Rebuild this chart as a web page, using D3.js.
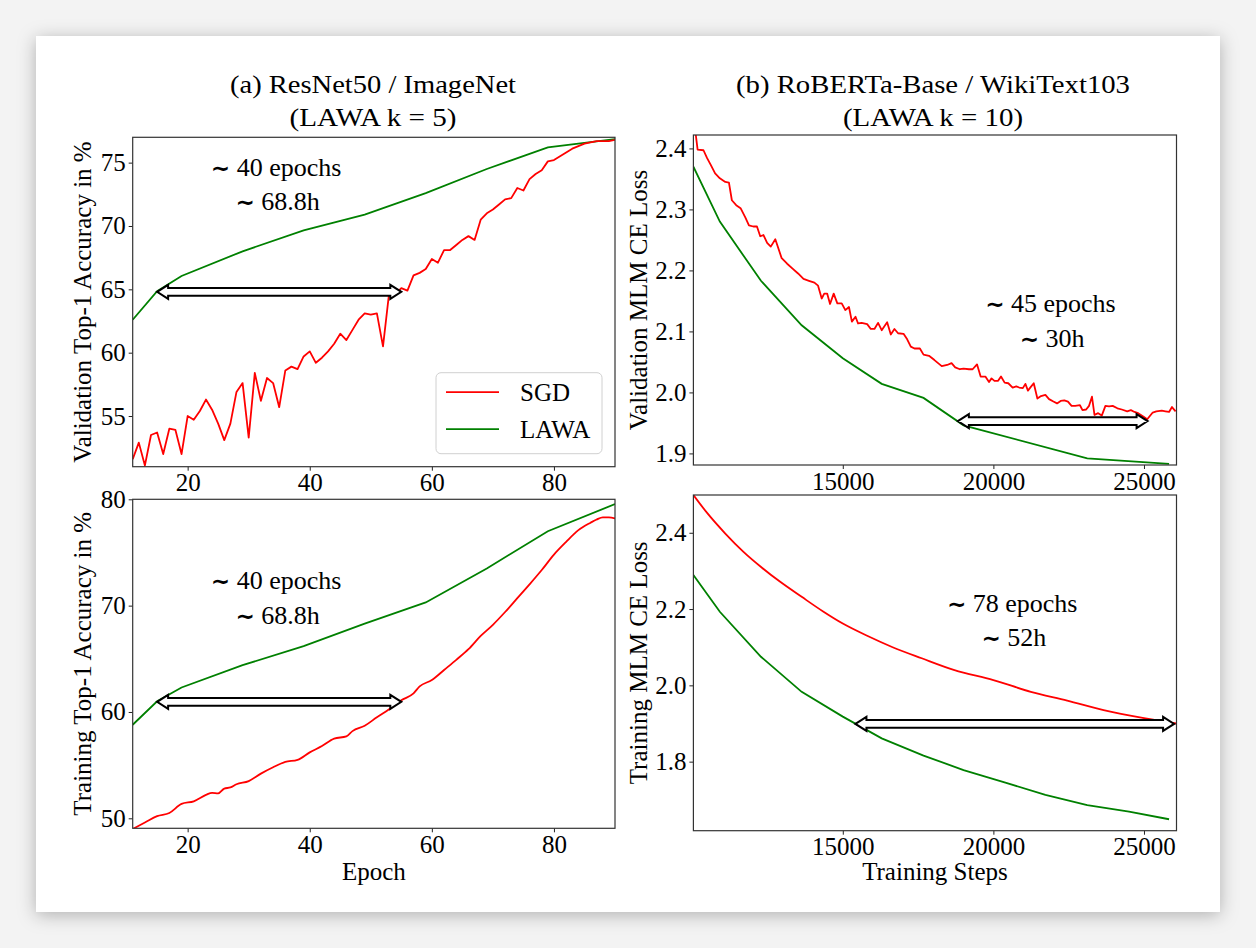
<!DOCTYPE html>
<html>
<head>
<meta charset="utf-8">
<script src="https://cdn.jsdelivr.net/npm/d3@7/dist/d3.min.js"></script>
<style>
  body { margin: 0; background: #f3f3f3; }
  svg text { font-family: "Liberation Serif", "Times New Roman", "DejaVu Serif", serif; fill: #000; }
</style>
</head>
<body>
<svg id="fig" width="1256" height="948"></svg>
<script>
// ---------- data ----------
// (a) ResNet50 / ImageNet, validation accuracy
const valEpochs = d3.range(11, 91);
const valSgd = [51.6, 52.9, 51.1, 53.5, 53.7, 52.0, 54.0, 53.9, 52.0, 55.0,
  54.7, 55.4, 56.3, 55.5, 54.4, 53.1, 54.4, 56.9, 57.6, 53.3,
  58.4, 56.2, 58.0, 57.6, 55.7, 58.6, 58.9, 58.7, 59.7, 60.1,
  59.2, 59.6, 60.1, 60.7, 61.5, 61.0, 61.8, 62.6, 63.1, 63.0,
  63.1, 60.5, 64.7, 64.6, 65.1, 64.9, 66.1, 66.3, 66.6, 67.4,
  67.1, 68.1, 68.1, 68.5, 68.9, 69.2, 68.9, 70.5, 71.0, 71.3,
  71.7, 72.1, 72.2, 73.0, 72.8, 73.7, 74.1, 74.4, 75.1, 75.2,
  75.5, 75.8, 76.1, 76.3, 76.5, 76.6, 76.7, 76.7, 76.7, 76.8];
const lawaEpochs = [11, 15, 19, 29, 39, 49, 59, 69, 79, 90];
const valLawa = [62.6, 64.85, 66.05, 68.0, 69.65, 70.9, 72.6, 74.5, 76.2, 76.85];

// (a) training accuracy
const trainSgdEpochs = [11, 13, 15, 17, 19, 21, 23, 24, 25, 26, 27, 28, 30, 32, 34, 36, 38, 40, 42, 44,
  46, 47, 49, 51, 53, 55, 57, 58, 60, 62, 64, 66, 68, 70, 72, 74, 76, 78, 80, 82, 84, 86, 87, 88, 89, 90];
const trainSgd = [49.0, 49.6, 50.2, 50.5, 51.35, 51.6, 52.2, 52.4, 52.35, 52.8, 52.9, 53.2, 53.5, 54.2, 54.8, 55.3, 55.5, 56.2, 56.8, 57.5,
  57.7, 58.2, 58.7, 59.5, 60.25, 61.1, 61.75, 62.4, 63.0, 63.95, 64.9, 65.9, 67.15, 68.2, 69.4, 70.7, 72.0, 73.35, 74.8, 76.0, 77.1, 77.8, 78.1, 78.3, 78.3, 78.2];
const trainLawa = [58.8, 61.0, 62.3, 64.4, 66.2, 68.3, 70.3, 73.5, 77.0, 79.55];

// (b) RoBERTa-Base / WikiText103, validation loss
const valSgdSteps = [10040, 10100, 10180, 10375, 10495, 10616, 10761, 10918, 11099, 11220, 11317, 11461, 11606, 11763, 11884, 12029, 12150,
  12259, 12367, 12488, 12609, 12760, 12971, 13152, 13333, 13515, 13696, 13877, 14058, 14179, 14300, 14384, 14481, 14577, 14698,
  14819, 14964, 15085, 15205, 15302, 15423, 15507, 15628, 15809, 15930, 16051, 16171, 16292, 16473, 16594, 16715, 16836, 17017,
  17138, 17258, 17379, 17560, 17681, 17862, 18043, 18285, 18466, 18611, 18732, 18889, 19010, 19191, 19311, 19456, 19577, 19734,
  19855, 19939, 20036, 20157, 20253, 20374, 20495, 20640, 20761, 20857, 20978, 21063, 21147, 21244, 21340, 21461, 21582, 21727,
  21848, 21993, 22113, 22234, 22355, 22476, 22596, 22717, 22874, 22959, 23080, 23176, 23273, 23357, 23478, 23599, 23720, 23840,
  23961, 24118, 24263, 24444, 24565, 24686, 24807, 24988, 25108, 25290, 25410, 25592, 25712, 25833, 25930, 26050];
const valSgdLoss = [2.46, 2.43, 2.398, 2.397, 2.384, 2.373, 2.359, 2.351, 2.345, 2.344, 2.315, 2.307, 2.302, 2.287, 2.274, 2.272, 2.272,
  2.256, 2.258, 2.245, 2.239, 2.251, 2.220, 2.211, 2.203, 2.195, 2.186, 2.183, 2.180, 2.175, 2.154, 2.162, 2.162, 2.145, 2.162,
  2.146, 2.146, 2.135, 2.140, 2.116, 2.124, 2.113, 2.114, 2.112, 2.104, 2.104, 2.114, 2.102, 2.115, 2.095, 2.104, 2.097, 2.096,
  2.087, 2.075, 2.072, 2.072, 2.062, 2.060, 2.053, 2.043, 2.045, 2.048, 2.041, 2.038, 2.039, 2.038, 2.038, 2.046, 2.026, 2.026,
  2.017, 2.023, 2.019, 2.019, 2.026, 2.016, 2.015, 2.008, 2.010, 2.008, 2.007, 2.014, 2.003, 2.009, 2.015, 1.990, 1.994, 1.996,
  1.989, 1.985, 1.982, 1.986, 1.987, 1.985, 1.978, 1.978, 1.979, 1.971, 1.972, 1.978, 1.993, 1.963, 1.966, 1.962, 1.978, 1.977,
  1.978, 1.974, 1.972, 1.969, 1.971, 1.968, 1.966, 1.960, 1.956, 1.967, 1.969, 1.970, 1.969, 1.968, 1.976, 1.969];
const valLawaSteps = [10040, 10918, 12283, 13635, 15000, 16292, 17681, 19010, 23116, 25833];
const valLawaLoss = [2.370, 2.280, 2.183, 2.110, 2.056, 2.014, 1.991, 1.946, 1.892, 1.883];

// (b) training loss
const trainSgdSteps = [10040, 10495, 11099, 11703, 12307, 12911, 13635, 14360, 15000, 15809, 16655, 17621, 18708, 20000, 21244, 22452, 23659, 25000, 26080];
const trainSgdLoss = [2.499, 2.452, 2.398, 2.350, 2.309, 2.272, 2.232, 2.193, 2.162, 2.130, 2.100, 2.071, 2.040, 2.014, 1.983, 1.960, 1.935, 1.914, 1.900];
const trainLawaSteps = [10040, 10918, 12283, 13635, 15000, 16292, 17681, 19010, 20398, 21727, 23116, 24504, 25833];
const trainLawaLoss = [2.289, 2.193, 2.075, 1.983, 1.918, 1.861, 1.816, 1.778, 1.745, 1.713, 1.686, 1.669, 1.649];

const legendNames = ["SGD", "LAWA"];
const colors = { SGD: "#ff0000", LAWA: "#008000" };

// ---------- drawing ----------
const svg = d3.select("#fig");
const defs = svg.append("defs");
const shadow = defs.append("filter").attr("id", "shadow")
  .attr("x", "-5%").attr("y", "-5%").attr("width", "110%").attr("height", "112%");
shadow.append("feDropShadow").attr("dx", 0).attr("dy", 3).attr("stdDeviation", 9)
  .attr("flood-color", "#000").attr("flood-opacity", 0.28);

svg.append("rect").attr("x", 36).attr("y", 36).attr("width", 1184).attr("height", 876)
  .attr("fill", "#fff").attr("filter", "url(#shadow)");

// titles
const titles = [
  { x: 373, lines: ["(a) ResNet50 / ImageNet", "(LAWA k = 5)"], widths: [286, 167] },
  { x: 933, lines: ["(b) RoBERTa-Base / WikiText103", "(LAWA k = 10)"], widths: [394, 180] }
];
titles.forEach(t => {
  t.lines.forEach((s, i) => {
    svg.append("text").attr("x", t.x).attr("y", i === 0 ? 93 : 126)
      .attr("text-anchor", "middle").attr("font-size", 25)
      .attr("textLength", t.widths[i]).attr("lengthAdjust", "spacingAndGlyphs")
      .text(s);
  });
});

const panels = [
  { id: "tl", box: [132.7, 137.3, 615, 466.7], xd: [11, 90], yd: [51, 77],
    xt: [20, 40, 60, 80], yt: [55, 60, 65, 70, 75], yfmt: d3.format("d"),
    ylabel: "Validation Top-1 Accuracy in %", ylx: 91,
    sgd: [valEpochs, valSgd], lawa: [lawaEpochs, valLawa], smooth: false,
    arrow: [15, 55, 64.8],
    notes: [["40 epochs", 23.8, 73.96], ["68.8h", 27.85, 71.25]], legend: true },
  { id: "tr", box: [693.4, 135, 1176.5, 465], xd: [10040, 26080], yd: [1.881, 2.422],
    xt: [15000, 20000, 25000], yt: [1.9, 2.0, 2.1, 2.2, 2.3, 2.4], yfmt: d3.format(".1f"),
    ylabel: "Validation MLM CE Loss", ylx: 647,
    sgd: [valSgdSteps, valSgdLoss], lawa: [valLawaSteps, valLawaLoss], smooth: false,
    arrow: [18820, 25120, 1.953],
    notes: [["45 epochs", 19728, 2.132], ["30h", 20876, 2.074]] },
  { id: "bl", box: [132.7, 499.3, 615, 828.3], xd: [11, 90], yd: [49.06, 80],
    xt: [20, 40, 60, 80], yt: [50, 60, 70, 80], yfmt: d3.format("d"),
    ylabel: "Training Top-1 Accuracy in %", ylx: 91, xlabel: "Epoch",
    sgd: [trainSgdEpochs, trainSgd], lawa: [lawaEpochs, trainLawa], smooth: true,
    arrow: [15, 55, 60.95],
    notes: [["40 epochs", 23.8, 71.53], ["68.8h", 27.85, 68.24]] },
  { id: "br", box: [693.4, 495, 1176.5, 830.7], xd: [10040, 26080], yd: [1.619, 2.499],
    xt: [15000, 20000, 25000], yt: [1.8, 2.0, 2.2, 2.4], yfmt: d3.format(".1f"),
    ylabel: "Training MLM CE Loss", ylx: 647, xlabel: "Training Steps",
    sgd: [trainSgdSteps, trainSgdLoss], lawa: [trainLawaSteps, trainLawaLoss], smooth: true,
    arrow: [15420, 26000, 1.899],
    notes: [["78 epochs", 18457, 2.193], ["52h", 19608, 2.103]] }
];

function arrowPath(xa, xb, yc) {
  const hl = 11, hh = 7, sh = 3.8;
  return d3.line()([
    [xa, yc], [xa + hl, yc - hh], [xa + hl, yc - sh], [xb - hl, yc - sh], [xb - hl, yc - hh],
    [xb, yc], [xb - hl, yc + hh], [xb - hl, yc + sh], [xa + hl, yc + sh], [xa + hl, yc + hh]
  ]) + "Z";
}

panels.forEach(p => {
  const [x0, y0, x1, y1] = p.box;
  const x = d3.scaleLinear().domain(p.xd).range([x0, x1]);
  const y = d3.scaleLinear().domain(p.yd).range([y1, y0]);
  const g = svg.append("g");

  defs.append("clipPath").attr("id", "clip-" + p.id).append("rect")
    .attr("x", x0).attr("y", y0).attr("width", x1 - x0).attr("height", y1 - y0);

  const line = d3.line().x(d => x(d[0])).y(d => y(d[1]));
  const sgdLine = d3.line().x(d => x(d[0])).y(d => y(d[1]))
    .curve(p.smooth ? d3.curveMonotoneX : d3.curveLinear);
  const plot = g.append("g").attr("clip-path", `url(#clip-${p.id})`);
  plot.append("path").datum(d3.zip(p.lawa[0], p.lawa[1]))
    .attr("d", line).attr("fill", "none").attr("stroke", colors.LAWA).attr("stroke-width", 1.8);
  plot.append("path").datum(d3.zip(p.sgd[0], p.sgd[1]))
    .attr("d", sgdLine).attr("fill", "none").attr("stroke", colors.SGD).attr("stroke-width", 1.8)
    .attr("stroke-linejoin", "round");

  // axes
  const xAxis = g.append("g").attr("transform", `translate(0,${y1})`)
    .call(d3.axisBottom(x).tickValues(p.xt).tickFormat(d3.format("d")).tickSize(4).tickSizeOuter(0).tickPadding(3));
  const yAxis = g.append("g").attr("transform", `translate(${x0},0)`)
    .call(d3.axisLeft(y).tickValues(p.yt).tickFormat(p.yfmt).tickSize(4).tickSizeOuter(0).tickPadding(3));
  [xAxis, yAxis].forEach(a => {
    a.select(".domain").remove();
    a.attr("font-family", null);
    a.selectAll("text").attr("font-size", 25).attr("fill", "#000");
    a.selectAll("line").attr("stroke", "#222");
  });

  // frame
  g.append("rect").attr("x", x0).attr("y", y0).attr("width", x1 - x0).attr("height", y1 - y0)
    .attr("fill", "none").attr("stroke", "#333").attr("stroke-width", 1.2);

  // arrow
  g.append("path").attr("d", arrowPath(x(p.arrow[0]), x(p.arrow[1]), y(p.arrow[2])))
    .attr("fill", "#fff").attr("stroke", "#000").attr("stroke-width", 2).attr("stroke-linejoin", "miter");

  // annotations: "∼ value"
  p.notes.forEach(n => {
    const t = g.append("text").attr("x", x(n[1])).attr("y", y(n[2])).attr("font-size", 26);
    t.append("tspan").attr("font-family", "DejaVu Sans").attr("font-weight", "bold")
      .attr("font-size", 23).text("∼");
    t.append("tspan").text(" " + n[0]);
  });

  // axis labels
  g.append("text").attr("transform", `translate(${p.ylx},${(y0 + y1) / 2}) rotate(-90)`)
    .attr("text-anchor", "middle").attr("font-size", 25).text(p.ylabel);
  if (p.xlabel) {
    g.append("text").attr("x", (x0 + x1) / 2).attr("y", 880)
      .attr("text-anchor", "middle").attr("font-size", 25).text(p.xlabel);
  }

  if (p.legend) {
    const lg = g.append("g").attr("transform", `translate(${x1 - 179},${y1 - 94})`);
    lg.append("rect").attr("width", 166).attr("height", 81).attr("rx", 5)
      .attr("fill", "#fff").attr("fill-opacity", 0.85).attr("stroke", "#d0d0d0").attr("stroke-width", 1);
    legendNames.forEach((name, i) => {
      const cy = 19.5 + i * 37;
      lg.append("line").attr("x1", 10).attr("x2", 63).attr("y1", cy).attr("y2", cy)
        .attr("stroke", colors[name]).attr("stroke-width", 1.8);
      lg.append("text").attr("x", 84).attr("y", cy + 9).attr("font-size", 25).text(name);
    });
  }
});
</script>
</body>
</html>
